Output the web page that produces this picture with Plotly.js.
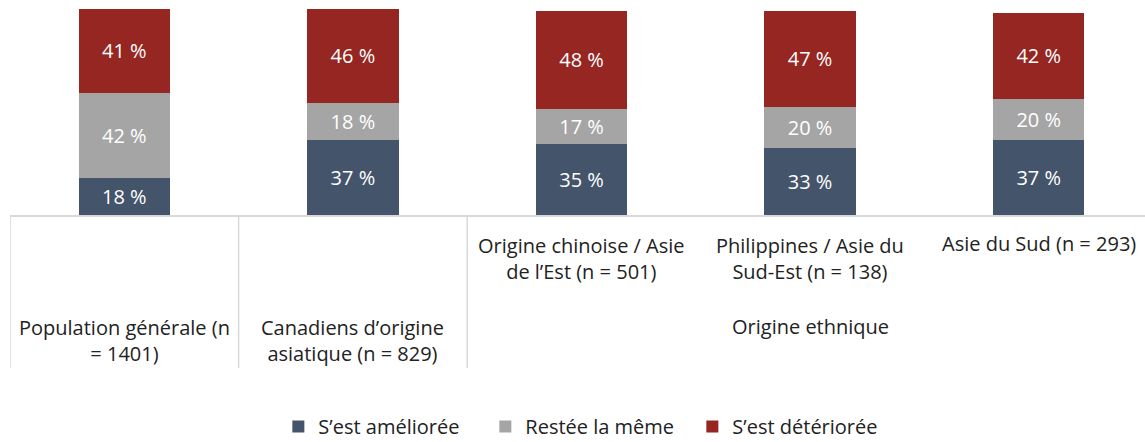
<!DOCTYPE html>
<html><head><meta charset="utf-8">
<script src="https://cdn.plot.ly/plotly-3.0.1.min.js"></script>
<style>body{margin:0;background:#fff}#c{width:1145px;height:442px}</style>
</head><body><div id="c"></div>
<script>
const categories = ["Population générale (n<br>= 1401)", "Canadiens d’origine<br>asiatique (n = 829)", "Origine chinoise / Asie<br>de l’Est (n = 501)", "Philippines / Asie du<br>Sud-Est (n = 138)", "Asie du Sud (n = 293)"];
const groupLabel = "Origine ethnique";
const seriesNames = ["S’est améliorée", "Restée la même", "S’est détériorée"];
const ameliore = [18, 37, 35, 33, 37];
const meme = [42, 18, 17, 20, 20];
const deteriore = [41, 46, 48, 47, 42];
const colors = ["#44546A", "#A5A5A5", "#952621"];

const FONT = "'Open Sans', Lato, sans-serif";
const xs = categories.map((c, i) => i);
const PH = 215; // plot height px
const py = p => (PH - p) / PH; // pixel y -> paper y
const LBL = 20;

const data = [ameliore, meme, deteriore].map((vals, k) => ({
  type: "bar", x: xs, y: vals, name: seriesNames[k],
  marker: {color: colors[k], line: {width: 0}},
  width: 0.4,
  text: vals.map(v => v + " %"), textposition: "inside", insidetextanchor: "middle",
  textfont: {color: "#ffffff", size: 20, family: FONT},
  hoverinfo: "none"
}));

const annotations = [];
[0, 1].forEach(i => annotations.push({x: i, xref: "x", y: py(340), yref: "paper", text: categories[i], showarrow: false, yanchor: "middle", xanchor: "center", font: {size: LBL, family: FONT, color: "#222"}}));
[2, 3, 4].forEach(i => annotations.push({x: i, xref: "x", y: i === 4 ? py(244) : py(258), yref: "paper", text: categories[i], showarrow: false, yanchor: "middle", xanchor: "center", font: {size: LBL, family: FONT, color: "#222"}}));
annotations.push({x: 3, xref: "x", y: py(326), yref: "paper", text: groupLabel, showarrow: false, yanchor: "middle", xanchor: "center", font: {size: LBL, family: FONT, color: "#222"}});

const shapes = [-0.5, 0.5, 1.5].map(x => ({type: "line", xref: "x", yref: "paper", x0: x, x1: x, y0: 0, y1: py(368), line: {color: "#D9D9D9", width: 1.5}}));

const layout = {
  width: 1145, height: 442,
  margin: {l: 10, r: 0, t: 0, b: 442 - PH, pad: 0, autoexpand: false},
  barmode: "stack",
  paper_bgcolor: "#fff", plot_bgcolor: "#fff",
  font: {family: FONT, color: "#222"},
  xaxis: {range: [-0.5, 4.465], showticklabels: false, ticks: "", showgrid: false, zeroline: false, showline: true, linecolor: "#D9D9D9", linewidth: 1.5, fixedrange: true},
  yaxis: {range: [0, 105.4], visible: false, fixedrange: true},
  showlegend: true,
  legend: {orientation: "h", x: 0.51, xanchor: "center", y: py(446), yanchor: "bottom", traceorder: "normal", font: {size: LBL, family: FONT, color: "#222"}, itemwidth: 30, entrywidth: 162, entrywidthmode: "pixels"},
  annotations, shapes
};
Plotly.newPlot("c", data, layout, {displayModeBar: false, staticPlot: true});
</script></body></html>
